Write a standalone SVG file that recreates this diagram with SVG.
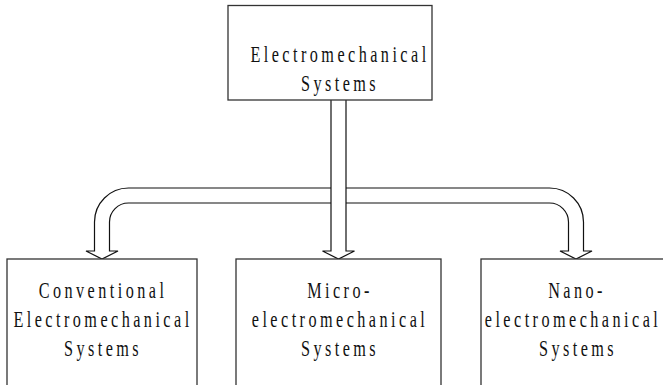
<svg xmlns="http://www.w3.org/2000/svg" width="663" height="385" viewBox="0 0 663 385">
<style>
.box{fill:#fff;stroke:#333;stroke-width:1.3}
.conn{fill:#fff;stroke:#111;stroke-width:1.2;stroke-linejoin:miter}
.t{font-family:"Liberation Serif","Times New Roman",serif;font-size:23.5px;fill:#111;text-anchor:middle;letter-spacing:5px}
</style>
<rect width="663" height="385" fill="#fff"/>
<g id="connectors">
<path class="conn" d="M94.5,251 L94.5,222 A34,34 0 0 1 128.5,188 L549.5,188 A34,34 0 0 1 583.5,222 L583.5,251 L592,251 L576,259 L560,251 L568.5,251 L568.5,222 A19,19 0 0 0 549.5,203 L128.5,203 A19,19 0 0 0 109.5,222 L109.5,251 L118,251 L102,259 L86,251 Z"/>
<path class="conn" d="M331,100 L331,251 L322.5,251 L338.5,259 L354.5,251 L346,251 L346,100"/>
</g>
<g id="electromechanical-systems">
<rect class="box" x="228" y="5.5" width="204" height="94.5"/>
<text class="t" transform="translate(340,62) scale(0.69,1)">Electromechanical</text>
<text class="t" transform="translate(340,91) scale(0.69,1)">Systems</text>
</g>
<g id="conventional">
<rect class="box" x="7" y="259" width="190" height="140"/>
<text class="t" transform="translate(103,298) scale(0.69,1)">Conventional</text>
<text class="t" transform="translate(103,327) scale(0.69,1)">Electromechanical</text>
<text class="t" transform="translate(103,356) scale(0.69,1)">Systems</text>
</g>
<g id="micro">
<rect class="box" x="236" y="259" width="205" height="140"/>
<text class="t" transform="translate(340,298) scale(0.69,1)">Micro-</text>
<text class="t" transform="translate(340,327) scale(0.69,1)">electromechanical</text>
<text class="t" transform="translate(340,356) scale(0.69,1)">Systems</text>
</g>
<g id="nano">
<rect class="box" x="481" y="259" width="200" height="140"/>
<text class="t" transform="translate(577,298) scale(0.69,1)">Nano-</text>
<text class="t" transform="translate(573,327) scale(0.69,1)">electromechanical</text>
<text class="t" transform="translate(578,356) scale(0.69,1)">Systems</text>
</g>
</svg>
